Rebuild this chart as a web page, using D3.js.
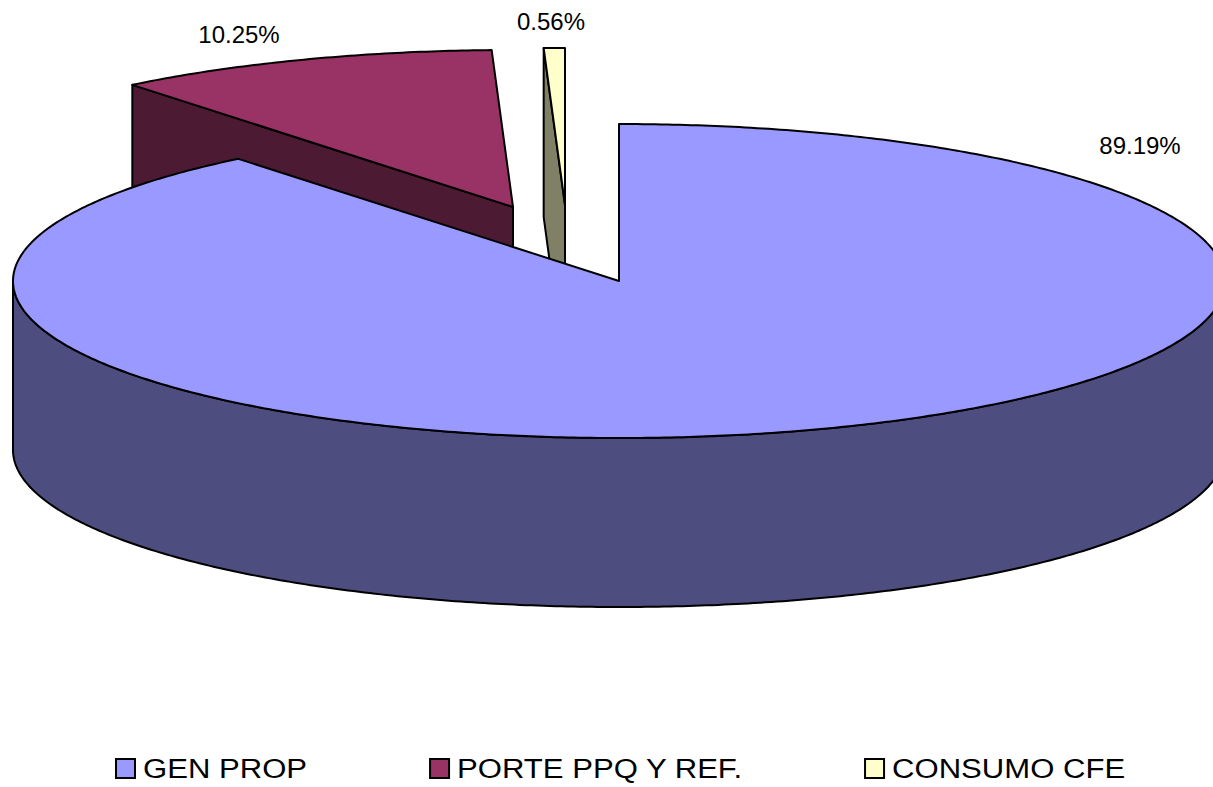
<!DOCTYPE html>
<html>
<head>
<meta charset="utf-8">
<title>3D pie</title>
<style>
  body { margin: 0; background: #fff; }
  svg { display: block; }
  text { font-family: "Liberation Sans", Arial, sans-serif; fill: #000; }
</style>
</head>
<body>
<script src="https://cdnjs.cloudflare.com/ajax/libs/d3/7.8.5/d3.min.js"></script>
<script>
// chart data
var categories = ["GEN PROP", "PORTE PPQ Y REF.", "CONSUMO CFE"];
var values = [89.19, 10.25, 0.56];
var labels = ["89.19%", "10.25%", "0.56%"];
var colors = ["#9999FF", "#993366", "#FFFFCC"];

var width = 1213, height = 787;
var cx = 619, cy = 281, rx = 606, ry = 157, depth = 169;

// explode offsets and label spots per slice (layout only)
var explode = [[0, 0], [-106, -74], [-54, -76]];
var labelAt = [[1140, 154], [239, 43], [551, 30]];

var svg = d3.select("body").append("svg")
    .attr("width", width)
    .attr("height", height);

var pie = d3.pie().sort(null).startAngle(0).endAngle(2 * Math.PI);
var arcs = pie(values);

function pt(a, o, z) {
  return [cx + o[0] + rx * Math.sin(a), cy + o[1] - ry * Math.cos(a) + z];
}

function arcPts(a0, a1, o, z) {
  var n = Math.max(2, Math.ceil(Math.abs(a1 - a0) / 0.01));
  var pts = [];
  for (var i = 0; i <= n; i++) pts.push(pt(a0 + (a1 - a0) * i / n, o, z));
  return pts;
}

function poly(pts) {
  return "M" + pts.map(function(p) { return p[0].toFixed(2) + "," + p[1].toFixed(2); }).join("L") + "Z";
}

function darken(c) {
  var r = d3.rgb(c);
  return d3.rgb(r.r * 0.5, r.g * 0.5, r.b * 0.5).formatHex();
}

// build shapes per slice
var slices = arcs.map(function(d, i) {
  var o = explode[i];
  var a0 = d.startAngle, a1 = d.endAngle;
  var apex = [cx + o[0], cy + o[1]];
  var sides = [];

  // radial face at start angle
  if (Math.sin(a0) < -1e-6) {
    var p = pt(a0, o, 0), q = pt(a0, o, depth);
    sides.push([apex, p, q, [apex[0], apex[1] + depth]]);
  }
  // radial face at end angle
  if (Math.sin(a1) > 1e-6) {
    var p2 = pt(a1, o, 0), q2 = pt(a1, o, depth);
    sides.push([apex, p2, q2, [apex[0], apex[1] + depth]]);
  }
  // outer wall, front half only
  var b0 = Math.max(a0, Math.PI / 2), b1 = Math.min(a1, 3 * Math.PI / 2);
  if (b1 > b0) {
    var top = arcPts(b0, b1, o, 0);
    var bot = arcPts(b1, b0, o, depth);
    sides.push(top.concat(bot));
  }
  var face = [apex].concat(arcPts(a0, a1, o, 0));
  return { i: i, sides: sides, face: face, backness: -Math.cos((a0 + a1) / 2) * ry + o[1] };
});

// back slices first
slices.sort(function(a, b) { return a.backness - b.backness; });

var g = svg.append("g");
slices.forEach(function(s) {
  var sg = g.append("g").attr("class", "slice");
  sg.selectAll("path.side").data(s.sides).enter().append("path")
      .attr("class", "side")
      .attr("d", poly)
      .attr("fill", darken(colors[s.i]))
      .attr("stroke", "#000")
      .attr("stroke-width", 2)
      .attr("stroke-linejoin", "round");
  sg.append("path")
      .attr("d", poly(s.face))
      .attr("fill", colors[s.i])
      .attr("stroke", "#000")
      .attr("stroke-width", 2)
      .attr("stroke-linejoin", "round");
});

// data labels
svg.selectAll("text.lbl").data(labels).enter().append("text")
    .attr("class", "lbl")
    .attr("x", function(d, i) { return labelAt[i][0]; })
    .attr("y", function(d, i) { return labelAt[i][1]; })
    .attr("text-anchor", "middle")
    .style("font-size", "24px")
    .text(function(d) { return d; });

// legend
var legend = svg.append("g").attr("class", "legend");
var lx = 116, ly = 759, box = 19, stretch = 1.11;
categories.forEach(function(c, i) {
  legend.append("rect")
      .attr("x", lx).attr("y", ly)
      .attr("width", box).attr("height", box)
      .attr("fill", colors[i])
      .attr("stroke", "#000")
      .attr("stroke-width", 2);
  var t = legend.append("text")
      .attr("transform", "translate(" + (lx + box + 8) + "," + (ly + 19) + ") scale(" + stretch + ",1)")
      .style("font-size", "28px")
      .text(c);
  var w = t.node().getComputedTextLength() * stretch;
  lx += box + 8 + w + 123;
});
</script>
</body>
</html>
